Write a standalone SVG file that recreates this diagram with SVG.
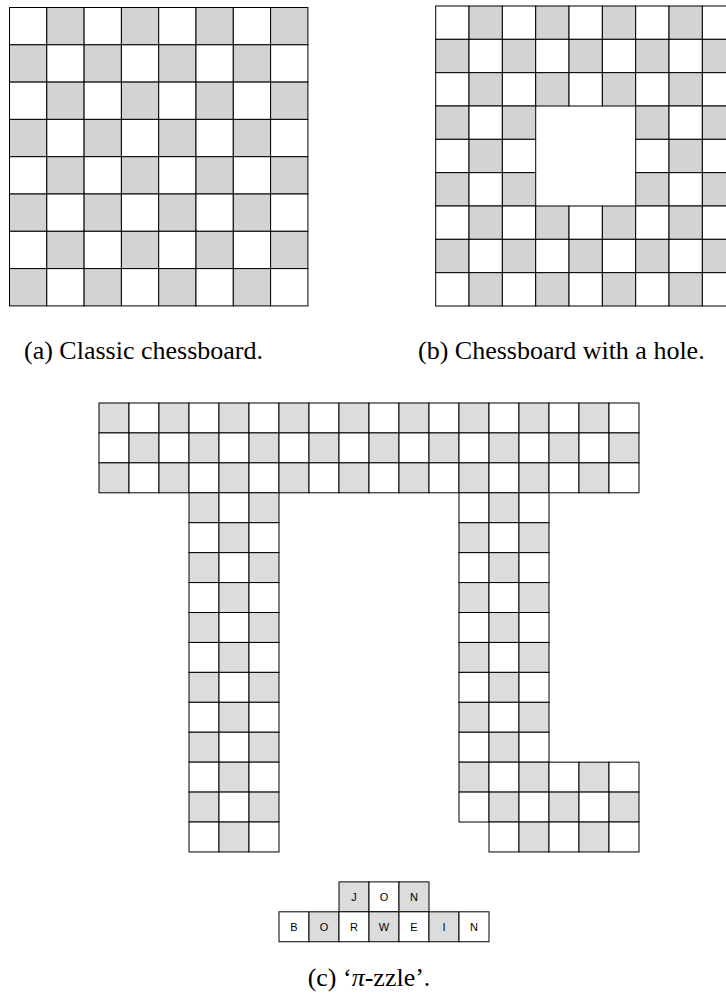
<svg xmlns="http://www.w3.org/2000/svg" width="726" height="1000" viewBox="0 0 726 1000">
<style>
rect{stroke:#000;stroke-width:1}
.w{fill:#fff}
.g{fill:#d3d3d3}
.h{fill:#dcdcdc}
.cap{font-family:"Liberation Serif","Times New Roman",serif;font-size:26px;fill:#000}
.lt{font-family:"Liberation Sans",Arial,sans-serif;font-size:11px;fill:#000;text-anchor:middle;dominant-baseline:central}
</style>
<rect x="0" y="0" width="726" height="1000" style="fill:#fff;stroke:none"/>
<g id="board-a">
<rect class="w" x="9.5" y="7.5" width="37.3" height="37.3"/><rect class="g" x="46.8" y="7.5" width="37.3" height="37.3"/><rect class="w" x="84.1" y="7.5" width="37.3" height="37.3"/><rect class="g" x="121.4" y="7.5" width="37.3" height="37.3"/><rect class="w" x="158.7" y="7.5" width="37.3" height="37.3"/><rect class="g" x="196" y="7.5" width="37.3" height="37.3"/><rect class="w" x="233.3" y="7.5" width="37.3" height="37.3"/><rect class="g" x="270.6" y="7.5" width="37.3" height="37.3"/>
<rect class="g" x="9.5" y="44.8" width="37.3" height="37.3"/><rect class="w" x="46.8" y="44.8" width="37.3" height="37.3"/><rect class="g" x="84.1" y="44.8" width="37.3" height="37.3"/><rect class="w" x="121.4" y="44.8" width="37.3" height="37.3"/><rect class="g" x="158.7" y="44.8" width="37.3" height="37.3"/><rect class="w" x="196" y="44.8" width="37.3" height="37.3"/><rect class="g" x="233.3" y="44.8" width="37.3" height="37.3"/><rect class="w" x="270.6" y="44.8" width="37.3" height="37.3"/>
<rect class="w" x="9.5" y="82.1" width="37.3" height="37.3"/><rect class="g" x="46.8" y="82.1" width="37.3" height="37.3"/><rect class="w" x="84.1" y="82.1" width="37.3" height="37.3"/><rect class="g" x="121.4" y="82.1" width="37.3" height="37.3"/><rect class="w" x="158.7" y="82.1" width="37.3" height="37.3"/><rect class="g" x="196" y="82.1" width="37.3" height="37.3"/><rect class="w" x="233.3" y="82.1" width="37.3" height="37.3"/><rect class="g" x="270.6" y="82.1" width="37.3" height="37.3"/>
<rect class="g" x="9.5" y="119.4" width="37.3" height="37.3"/><rect class="w" x="46.8" y="119.4" width="37.3" height="37.3"/><rect class="g" x="84.1" y="119.4" width="37.3" height="37.3"/><rect class="w" x="121.4" y="119.4" width="37.3" height="37.3"/><rect class="g" x="158.7" y="119.4" width="37.3" height="37.3"/><rect class="w" x="196" y="119.4" width="37.3" height="37.3"/><rect class="g" x="233.3" y="119.4" width="37.3" height="37.3"/><rect class="w" x="270.6" y="119.4" width="37.3" height="37.3"/>
<rect class="w" x="9.5" y="156.7" width="37.3" height="37.3"/><rect class="g" x="46.8" y="156.7" width="37.3" height="37.3"/><rect class="w" x="84.1" y="156.7" width="37.3" height="37.3"/><rect class="g" x="121.4" y="156.7" width="37.3" height="37.3"/><rect class="w" x="158.7" y="156.7" width="37.3" height="37.3"/><rect class="g" x="196" y="156.7" width="37.3" height="37.3"/><rect class="w" x="233.3" y="156.7" width="37.3" height="37.3"/><rect class="g" x="270.6" y="156.7" width="37.3" height="37.3"/>
<rect class="g" x="9.5" y="194" width="37.3" height="37.3"/><rect class="w" x="46.8" y="194" width="37.3" height="37.3"/><rect class="g" x="84.1" y="194" width="37.3" height="37.3"/><rect class="w" x="121.4" y="194" width="37.3" height="37.3"/><rect class="g" x="158.7" y="194" width="37.3" height="37.3"/><rect class="w" x="196" y="194" width="37.3" height="37.3"/><rect class="g" x="233.3" y="194" width="37.3" height="37.3"/><rect class="w" x="270.6" y="194" width="37.3" height="37.3"/>
<rect class="w" x="9.5" y="231.3" width="37.3" height="37.3"/><rect class="g" x="46.8" y="231.3" width="37.3" height="37.3"/><rect class="w" x="84.1" y="231.3" width="37.3" height="37.3"/><rect class="g" x="121.4" y="231.3" width="37.3" height="37.3"/><rect class="w" x="158.7" y="231.3" width="37.3" height="37.3"/><rect class="g" x="196" y="231.3" width="37.3" height="37.3"/><rect class="w" x="233.3" y="231.3" width="37.3" height="37.3"/><rect class="g" x="270.6" y="231.3" width="37.3" height="37.3"/>
<rect class="g" x="9.5" y="268.6" width="37.3" height="37.3"/><rect class="w" x="46.8" y="268.6" width="37.3" height="37.3"/><rect class="g" x="84.1" y="268.6" width="37.3" height="37.3"/><rect class="w" x="121.4" y="268.6" width="37.3" height="37.3"/><rect class="g" x="158.7" y="268.6" width="37.3" height="37.3"/><rect class="w" x="196" y="268.6" width="37.3" height="37.3"/><rect class="g" x="233.3" y="268.6" width="37.3" height="37.3"/><rect class="w" x="270.6" y="268.6" width="37.3" height="37.3"/>
</g>
<g id="board-b">
<rect class="w" x="435.7" y="6" width="33.33" height="33.33"/><rect class="g" x="469.03" y="6" width="33.33" height="33.33"/><rect class="w" x="502.37" y="6" width="33.33" height="33.33"/><rect class="g" x="535.7" y="6" width="33.33" height="33.33"/><rect class="w" x="569.03" y="6" width="33.33" height="33.33"/><rect class="g" x="602.37" y="6" width="33.33" height="33.33"/><rect class="w" x="635.7" y="6" width="33.33" height="33.33"/><rect class="g" x="669.03" y="6" width="33.33" height="33.33"/><rect class="w" x="702.37" y="6" width="33.33" height="33.33"/>
<rect class="g" x="435.7" y="39.33" width="33.33" height="33.33"/><rect class="w" x="469.03" y="39.33" width="33.33" height="33.33"/><rect class="g" x="502.37" y="39.33" width="33.33" height="33.33"/><rect class="w" x="535.7" y="39.33" width="33.33" height="33.33"/><rect class="g" x="569.03" y="39.33" width="33.33" height="33.33"/><rect class="w" x="602.37" y="39.33" width="33.33" height="33.33"/><rect class="g" x="635.7" y="39.33" width="33.33" height="33.33"/><rect class="w" x="669.03" y="39.33" width="33.33" height="33.33"/><rect class="g" x="702.37" y="39.33" width="33.33" height="33.33"/>
<rect class="w" x="435.7" y="72.67" width="33.33" height="33.33"/><rect class="g" x="469.03" y="72.67" width="33.33" height="33.33"/><rect class="w" x="502.37" y="72.67" width="33.33" height="33.33"/><rect class="g" x="535.7" y="72.67" width="33.33" height="33.33"/><rect class="w" x="569.03" y="72.67" width="33.33" height="33.33"/><rect class="g" x="602.37" y="72.67" width="33.33" height="33.33"/><rect class="w" x="635.7" y="72.67" width="33.33" height="33.33"/><rect class="g" x="669.03" y="72.67" width="33.33" height="33.33"/><rect class="w" x="702.37" y="72.67" width="33.33" height="33.33"/>
<rect class="g" x="435.7" y="106" width="33.33" height="33.33"/><rect class="w" x="469.03" y="106" width="33.33" height="33.33"/><rect class="g" x="502.37" y="106" width="33.33" height="33.33"/><rect class="g" x="635.7" y="106" width="33.33" height="33.33"/><rect class="w" x="669.03" y="106" width="33.33" height="33.33"/><rect class="g" x="702.37" y="106" width="33.33" height="33.33"/>
<rect class="w" x="435.7" y="139.33" width="33.33" height="33.33"/><rect class="g" x="469.03" y="139.33" width="33.33" height="33.33"/><rect class="w" x="502.37" y="139.33" width="33.33" height="33.33"/><rect class="w" x="635.7" y="139.33" width="33.33" height="33.33"/><rect class="g" x="669.03" y="139.33" width="33.33" height="33.33"/><rect class="w" x="702.37" y="139.33" width="33.33" height="33.33"/>
<rect class="g" x="435.7" y="172.67" width="33.33" height="33.33"/><rect class="w" x="469.03" y="172.67" width="33.33" height="33.33"/><rect class="g" x="502.37" y="172.67" width="33.33" height="33.33"/><rect class="g" x="635.7" y="172.67" width="33.33" height="33.33"/><rect class="w" x="669.03" y="172.67" width="33.33" height="33.33"/><rect class="g" x="702.37" y="172.67" width="33.33" height="33.33"/>
<rect class="w" x="435.7" y="206" width="33.33" height="33.33"/><rect class="g" x="469.03" y="206" width="33.33" height="33.33"/><rect class="w" x="502.37" y="206" width="33.33" height="33.33"/><rect class="g" x="535.7" y="206" width="33.33" height="33.33"/><rect class="w" x="569.03" y="206" width="33.33" height="33.33"/><rect class="g" x="602.37" y="206" width="33.33" height="33.33"/><rect class="w" x="635.7" y="206" width="33.33" height="33.33"/><rect class="g" x="669.03" y="206" width="33.33" height="33.33"/><rect class="w" x="702.37" y="206" width="33.33" height="33.33"/>
<rect class="g" x="435.7" y="239.33" width="33.33" height="33.33"/><rect class="w" x="469.03" y="239.33" width="33.33" height="33.33"/><rect class="g" x="502.37" y="239.33" width="33.33" height="33.33"/><rect class="w" x="535.7" y="239.33" width="33.33" height="33.33"/><rect class="g" x="569.03" y="239.33" width="33.33" height="33.33"/><rect class="w" x="602.37" y="239.33" width="33.33" height="33.33"/><rect class="g" x="635.7" y="239.33" width="33.33" height="33.33"/><rect class="w" x="669.03" y="239.33" width="33.33" height="33.33"/><rect class="g" x="702.37" y="239.33" width="33.33" height="33.33"/>
<rect class="w" x="435.7" y="272.67" width="33.33" height="33.33"/><rect class="g" x="469.03" y="272.67" width="33.33" height="33.33"/><rect class="w" x="502.37" y="272.67" width="33.33" height="33.33"/><rect class="g" x="535.7" y="272.67" width="33.33" height="33.33"/><rect class="w" x="569.03" y="272.67" width="33.33" height="33.33"/><rect class="g" x="602.37" y="272.67" width="33.33" height="33.33"/><rect class="w" x="635.7" y="272.67" width="33.33" height="33.33"/><rect class="g" x="669.03" y="272.67" width="33.33" height="33.33"/><rect class="w" x="702.37" y="272.67" width="33.33" height="33.33"/>
</g>
<g id="pi-puzzle">
<rect class="h" x="99" y="403" width="30" height="29.93"/><rect class="w" x="129" y="403" width="30" height="29.93"/><rect class="h" x="159" y="403" width="30" height="29.93"/><rect class="w" x="189" y="403" width="30" height="29.93"/><rect class="h" x="219" y="403" width="30" height="29.93"/><rect class="w" x="249" y="403" width="30" height="29.93"/><rect class="h" x="279" y="403" width="30" height="29.93"/><rect class="w" x="309" y="403" width="30" height="29.93"/><rect class="h" x="339" y="403" width="30" height="29.93"/><rect class="w" x="369" y="403" width="30" height="29.93"/><rect class="h" x="399" y="403" width="30" height="29.93"/><rect class="w" x="429" y="403" width="30" height="29.93"/><rect class="h" x="459" y="403" width="30" height="29.93"/><rect class="w" x="489" y="403" width="30" height="29.93"/><rect class="h" x="519" y="403" width="30" height="29.93"/><rect class="w" x="549" y="403" width="30" height="29.93"/><rect class="h" x="579" y="403" width="30" height="29.93"/><rect class="w" x="609" y="403" width="30" height="29.93"/>
<rect class="w" x="99" y="432.93" width="30" height="29.93"/><rect class="h" x="129" y="432.93" width="30" height="29.93"/><rect class="w" x="159" y="432.93" width="30" height="29.93"/><rect class="h" x="189" y="432.93" width="30" height="29.93"/><rect class="w" x="219" y="432.93" width="30" height="29.93"/><rect class="h" x="249" y="432.93" width="30" height="29.93"/><rect class="w" x="279" y="432.93" width="30" height="29.93"/><rect class="h" x="309" y="432.93" width="30" height="29.93"/><rect class="w" x="339" y="432.93" width="30" height="29.93"/><rect class="h" x="369" y="432.93" width="30" height="29.93"/><rect class="w" x="399" y="432.93" width="30" height="29.93"/><rect class="h" x="429" y="432.93" width="30" height="29.93"/><rect class="w" x="459" y="432.93" width="30" height="29.93"/><rect class="h" x="489" y="432.93" width="30" height="29.93"/><rect class="w" x="519" y="432.93" width="30" height="29.93"/><rect class="h" x="549" y="432.93" width="30" height="29.93"/><rect class="w" x="579" y="432.93" width="30" height="29.93"/><rect class="h" x="609" y="432.93" width="30" height="29.93"/>
<rect class="h" x="99" y="462.86" width="30" height="29.93"/><rect class="w" x="129" y="462.86" width="30" height="29.93"/><rect class="h" x="159" y="462.86" width="30" height="29.93"/><rect class="w" x="189" y="462.86" width="30" height="29.93"/><rect class="h" x="219" y="462.86" width="30" height="29.93"/><rect class="w" x="249" y="462.86" width="30" height="29.93"/><rect class="h" x="279" y="462.86" width="30" height="29.93"/><rect class="w" x="309" y="462.86" width="30" height="29.93"/><rect class="h" x="339" y="462.86" width="30" height="29.93"/><rect class="w" x="369" y="462.86" width="30" height="29.93"/><rect class="h" x="399" y="462.86" width="30" height="29.93"/><rect class="w" x="429" y="462.86" width="30" height="29.93"/><rect class="h" x="459" y="462.86" width="30" height="29.93"/><rect class="w" x="489" y="462.86" width="30" height="29.93"/><rect class="h" x="519" y="462.86" width="30" height="29.93"/><rect class="w" x="549" y="462.86" width="30" height="29.93"/><rect class="h" x="579" y="462.86" width="30" height="29.93"/><rect class="w" x="609" y="462.86" width="30" height="29.93"/>
<rect class="h" x="189" y="492.79" width="30" height="29.93"/><rect class="w" x="219" y="492.79" width="30" height="29.93"/><rect class="h" x="249" y="492.79" width="30" height="29.93"/>
<rect class="w" x="189" y="522.72" width="30" height="29.93"/><rect class="h" x="219" y="522.72" width="30" height="29.93"/><rect class="w" x="249" y="522.72" width="30" height="29.93"/>
<rect class="h" x="189" y="552.65" width="30" height="29.93"/><rect class="w" x="219" y="552.65" width="30" height="29.93"/><rect class="h" x="249" y="552.65" width="30" height="29.93"/>
<rect class="w" x="189" y="582.58" width="30" height="29.93"/><rect class="h" x="219" y="582.58" width="30" height="29.93"/><rect class="w" x="249" y="582.58" width="30" height="29.93"/>
<rect class="h" x="189" y="612.51" width="30" height="29.93"/><rect class="w" x="219" y="612.51" width="30" height="29.93"/><rect class="h" x="249" y="612.51" width="30" height="29.93"/>
<rect class="w" x="189" y="642.44" width="30" height="29.93"/><rect class="h" x="219" y="642.44" width="30" height="29.93"/><rect class="w" x="249" y="642.44" width="30" height="29.93"/>
<rect class="h" x="189" y="672.37" width="30" height="29.93"/><rect class="w" x="219" y="672.37" width="30" height="29.93"/><rect class="h" x="249" y="672.37" width="30" height="29.93"/>
<rect class="w" x="189" y="702.3" width="30" height="29.93"/><rect class="h" x="219" y="702.3" width="30" height="29.93"/><rect class="w" x="249" y="702.3" width="30" height="29.93"/>
<rect class="h" x="189" y="732.23" width="30" height="29.93"/><rect class="w" x="219" y="732.23" width="30" height="29.93"/><rect class="h" x="249" y="732.23" width="30" height="29.93"/>
<rect class="w" x="189" y="762.16" width="30" height="29.93"/><rect class="h" x="219" y="762.16" width="30" height="29.93"/><rect class="w" x="249" y="762.16" width="30" height="29.93"/>
<rect class="h" x="189" y="792.09" width="30" height="29.93"/><rect class="w" x="219" y="792.09" width="30" height="29.93"/><rect class="h" x="249" y="792.09" width="30" height="29.93"/>
<rect class="w" x="189" y="822.02" width="30" height="29.93"/><rect class="h" x="219" y="822.02" width="30" height="29.93"/><rect class="w" x="249" y="822.02" width="30" height="29.93"/>
<rect class="w" x="459" y="492.79" width="30" height="29.93"/><rect class="h" x="489" y="492.79" width="30" height="29.93"/><rect class="w" x="519" y="492.79" width="30" height="29.93"/>
<rect class="h" x="459" y="522.72" width="30" height="29.93"/><rect class="w" x="489" y="522.72" width="30" height="29.93"/><rect class="h" x="519" y="522.72" width="30" height="29.93"/>
<rect class="w" x="459" y="552.65" width="30" height="29.93"/><rect class="h" x="489" y="552.65" width="30" height="29.93"/><rect class="w" x="519" y="552.65" width="30" height="29.93"/>
<rect class="h" x="459" y="582.58" width="30" height="29.93"/><rect class="w" x="489" y="582.58" width="30" height="29.93"/><rect class="h" x="519" y="582.58" width="30" height="29.93"/>
<rect class="w" x="459" y="612.51" width="30" height="29.93"/><rect class="h" x="489" y="612.51" width="30" height="29.93"/><rect class="w" x="519" y="612.51" width="30" height="29.93"/>
<rect class="h" x="459" y="642.44" width="30" height="29.93"/><rect class="w" x="489" y="642.44" width="30" height="29.93"/><rect class="h" x="519" y="642.44" width="30" height="29.93"/>
<rect class="w" x="459" y="672.37" width="30" height="29.93"/><rect class="h" x="489" y="672.37" width="30" height="29.93"/><rect class="w" x="519" y="672.37" width="30" height="29.93"/>
<rect class="h" x="459" y="702.3" width="30" height="29.93"/><rect class="w" x="489" y="702.3" width="30" height="29.93"/><rect class="h" x="519" y="702.3" width="30" height="29.93"/>
<rect class="w" x="459" y="732.23" width="30" height="29.93"/><rect class="h" x="489" y="732.23" width="30" height="29.93"/><rect class="w" x="519" y="732.23" width="30" height="29.93"/>
<rect class="h" x="459" y="762.16" width="30" height="29.93"/><rect class="w" x="489" y="762.16" width="30" height="29.93"/><rect class="h" x="519" y="762.16" width="30" height="29.93"/><rect class="w" x="549" y="762.16" width="30" height="29.93"/><rect class="h" x="579" y="762.16" width="30" height="29.93"/><rect class="w" x="609" y="762.16" width="30" height="29.93"/>
<rect class="w" x="459" y="792.09" width="30" height="29.93"/><rect class="h" x="489" y="792.09" width="30" height="29.93"/><rect class="w" x="519" y="792.09" width="30" height="29.93"/><rect class="h" x="549" y="792.09" width="30" height="29.93"/><rect class="w" x="579" y="792.09" width="30" height="29.93"/><rect class="h" x="609" y="792.09" width="30" height="29.93"/>
<rect class="w" x="489" y="822.02" width="30" height="29.93"/><rect class="h" x="519" y="822.02" width="30" height="29.93"/><rect class="w" x="549" y="822.02" width="30" height="29.93"/><rect class="h" x="579" y="822.02" width="30" height="29.93"/><rect class="w" x="609" y="822.02" width="30" height="29.93"/>
</g>
<g id="name-tiles">
<rect class="h" x="339" y="881.88" width="30" height="29.93"/><rect class="w" x="369" y="881.88" width="30" height="29.93"/><rect class="h" x="399" y="881.88" width="30" height="29.93"/>
<rect class="w" x="279" y="911.81" width="30" height="29.93"/><rect class="h" x="309" y="911.81" width="30" height="29.93"/><rect class="w" x="339" y="911.81" width="30" height="29.93"/><rect class="h" x="369" y="911.81" width="30" height="29.93"/><rect class="w" x="399" y="911.81" width="30" height="29.93"/><rect class="h" x="429" y="911.81" width="30" height="29.93"/><rect class="w" x="459" y="911.81" width="30" height="29.93"/>
<text class="lt" x="354" y="897">J</text><text class="lt" x="384" y="897">O</text><text class="lt" x="414" y="897">N</text>
<text class="lt" x="294" y="927">B</text><text class="lt" x="324" y="927">O</text><text class="lt" x="354" y="927">R</text><text class="lt" x="384" y="927">W</text><text class="lt" x="414" y="927">E</text><text class="lt" x="444" y="927">I</text><text class="lt" x="474" y="927">N</text>
</g>
<g id="connectors"/>
<g id="captions">
<text class="cap" x="24" y="359">(a) Classic chessboard.</text>
<text class="cap" x="418" y="359">(b) Chessboard with a hole.</text>
<text class="cap" x="369" y="986" text-anchor="middle">(c) ‘<tspan font-style="italic">π</tspan>-zzle’.</text>
</g>
</svg>
